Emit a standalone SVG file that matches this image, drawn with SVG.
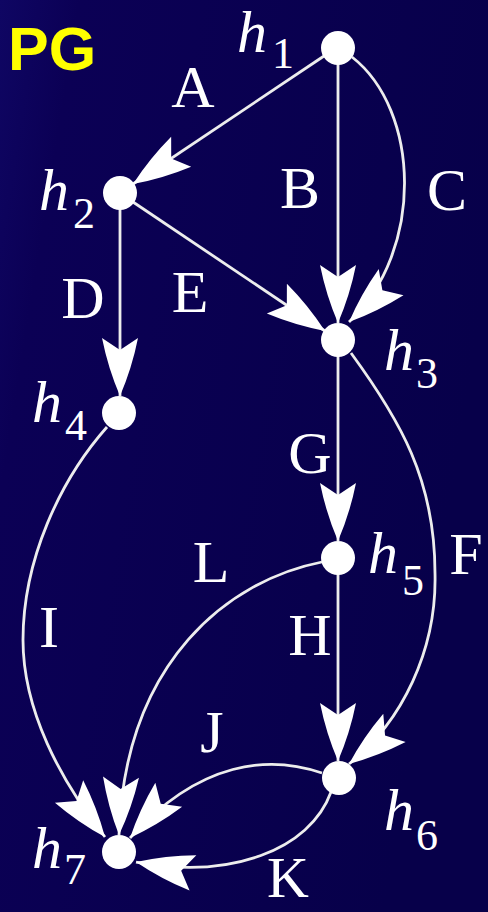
<svg xmlns="http://www.w3.org/2000/svg" width="488" height="912" viewBox="0 0 488 912">
<defs>
<linearGradient id="bg" x1="0" y1="0" x2="1" y2="0.3">
<stop offset="0" stop-color="#0f0663"/>
<stop offset="0.15" stop-color="#0b0055"/>
<stop offset="1" stop-color="#07004a"/>
</linearGradient>
<marker id="arr" markerUnits="userSpaceOnUse" markerWidth="80" markerHeight="40" refX="0" refY="0" orient="auto" overflow="visible">
<path d="M0,0 Q-28,-12 -58,-18 L-46,0 L-58,18 Q-28,12 0,0 Z" fill="#ffffff"/>
</marker>
<style>
.e{fill:none;stroke:#ededed;stroke-width:2.8;marker-end:url(#arr)}
.n{fill:#ffffff}
.lb{font-family:"Liberation Serif","Times New Roman",serif;font-size:60px;fill:#ffffff;text-anchor:middle}
.h{font-family:"Liberation Serif","Times New Roman",serif;font-style:italic;font-size:60px;fill:#ffffff;text-anchor:middle}
.s{font-style:normal;font-size:44px}
</style>
</defs>
<rect x="0" y="0" width="488" height="912" fill="url(#bg)"/>
<text x="8" y="70" font-family="Liberation Sans, Arial, sans-serif" font-weight="bold" font-size="61" fill="#ffff00">PG</text>
<g id="connectors">
<path id="eA" class="e" d="M324,56 L133,184"/>
<path id="eB" class="e" d="M338,64 L338,323"/>
<path id="eC" class="e" d="M352,57 C420,110 425,250 349,322"/>
<path id="eD" class="e" d="M120,208 L120,396"/>
<path id="eE" class="e" d="M133,202 L325,331"/>
<path id="eF" class="e" d="M351,353 C400,420 435,480 435,573 C437,650 402,722 349,764"/>
<path id="eG" class="e" d="M338,356 L338,541"/>
<path id="eH" class="e" d="M338,574 L338,761"/>
<path id="eI" class="e" d="M107,427 C60,480 23,560 23,640 C23,710 60,780 105,837"/>
<path id="eL" class="e" d="M322,562 C230,580 125,660 119,835"/>
<path id="eJ" class="e" d="M322,773 C270,755 200,760 130,838"/>
<path id="eK" class="e" d="M331,792 C310,850 230,880 136,862"/>
</g>
<g id="edge-labels">
<text class="lb" x="193" y="107">A</text>
<text class="lb" x="300" y="208">B</text>
<text class="lb" x="447" y="210">C</text>
<text class="lb" x="83" y="318">D</text>
<text class="lb" x="190" y="312">E</text>
<text class="lb" x="310" y="473">G</text>
<text class="lb" x="466" y="574">F</text>
<text class="lb" x="211" y="582">L</text>
<text class="lb" x="49" y="647">I</text>
<text class="lb" x="310" y="655">H</text>
<text class="lb" x="212" y="752">J</text>
<text class="lb" x="288" y="897" style="font-size:58px">K</text>
</g>
<g id="h1"><circle class="n" cx="338" cy="48" r="17"/><text class="h"><tspan x="252" y="52">h</tspan><tspan class="s" x="283" y="68">1</tspan></text></g>
<g id="h2"><circle class="n" cx="120" cy="193" r="17"/><text class="h"><tspan x="54" y="210">h</tspan><tspan class="s" x="84" y="228">2</tspan></text></g>
<g id="h3"><circle class="n" cx="338" cy="340" r="17"/><text class="h"><tspan x="399" y="370">h</tspan><tspan class="s" x="427" y="388">3</tspan></text></g>
<g id="h4"><circle class="n" cx="119" cy="413" r="17"/><text class="h"><tspan x="47" y="422">h</tspan><tspan class="s" x="76" y="440">4</tspan></text></g>
<g id="h5"><circle class="n" cx="338" cy="558" r="17"/><text class="h"><tspan x="383" y="573">h</tspan><tspan class="s" x="413" y="595">5</tspan></text></g>
<g id="h6"><circle class="n" cx="339" cy="778" r="17"/><text class="h"><tspan x="399" y="830">h</tspan><tspan class="s" x="427" y="850">6</tspan></text></g>
<g id="h7"><circle class="n" cx="119" cy="852" r="17"/><text class="h"><tspan x="47" y="868">h</tspan><tspan class="s" x="75" y="884">7</tspan></text></g>
</svg>
